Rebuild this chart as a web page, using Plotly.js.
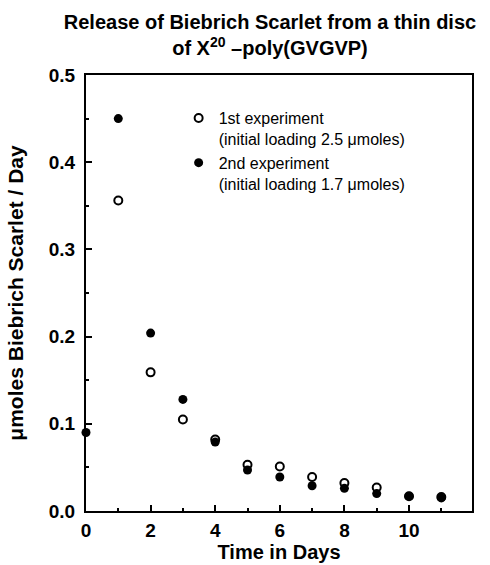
<!DOCTYPE html>
<html>
<head>
<meta charset="utf-8">
<script src="https://cdn.plot.ly/plotly-3.0.1.min.js"></script>
<style>html,body{margin:0;padding:0;background:#fff;}#chart{width:490px;height:565px;}</style>
</head>
<body>
<div id="chart"></div>
<script>
// Data
var daysFirst = [1, 2, 3, 4, 5, 6, 7, 8, 9, 10, 11];
var releaseFirst = [0.356, 0.159, 0.105, 0.082, 0.053, 0.051, 0.039, 0.032, 0.027, 0.017, 0.016];
var daysSecond = [0, 1, 2, 3, 4, 5, 6, 7, 8, 9, 10, 11];
var releaseSecond = [0.090, 0.450, 0.204, 0.128, 0.079, 0.047, 0.039, 0.029, 0.026, 0.020, 0.017, 0.015];
var nameFirst = "1st experiment<br>(initial loading 2.5 \u03bcmoles)";
var nameSecond = "2nd experiment<br>(initial loading 1.7 \u03bcmoles)";
var xTicks = [0, 2, 4, 6, 8, 10];

var FONT = "Liberation Sans, Arial, Helvetica, sans-serif";

var traces = [
  {
    x: daysFirst, y: releaseFirst, name: nameFirst,
    type: "scatter", mode: "markers", cliponaxis: false,
    marker: {symbol: "circle", size: 8, color: "#ffffff", line: {color: "#000000", width: 2}}
  },
  {
    x: daysSecond, y: releaseSecond, name: nameSecond,
    type: "scatter", mode: "markers", cliponaxis: false,
    marker: {symbol: "circle", size: 9, color: "#000000", line: {color: "#000000", width: 0}}
  }
];

var layout = {
  width: 490, height: 565,
  paper_bgcolor: "#ffffff", plot_bgcolor: "#ffffff",
  margin: {l: 86, r: 18, t: 75, b: 54},
  font: {family: FONT, color: "#000000"},
  title: {
    text: "<b>Release of Biebrich Scarlet from a thin disc<br>of X<sup>20</sup> \u2013poly(GVGVP)</b>",
    font: {family: FONT, size: 20, color: "#000000"},
    x: 0.551, xanchor: "center", xref: "container",
    y: 0.948, yanchor: "top", yref: "container"
  },
  xaxis: {
    range: [0, 11.95], tickvals: xTicks,
    showgrid: false, zeroline: false,
    showline: true, linecolor: "#000000", linewidth: 2, mirror: true,
    ticks: "inside", ticklen: 6, tickwidth: 2, tickcolor: "#000000",
    minor: {dtick: 1, tick0: 0, ticks: "inside", ticklen: 3, tickwidth: 2, tickcolor: "#000000"},
    tickfont: {family: FONT, size: 19, color: "#000000", weight: "bold"},
    ticklabelstandoff: 1,
    title: {text: "<b>Time in Days</b>", font: {family: FONT, size: 20, color: "#000000"}, standoff: 0}
  },
  yaxis: {
    range: [0, 0.5], dtick: 0.1, tick0: 0, tickformat: ".1f",
    showgrid: false, zeroline: false,
    showline: true, linecolor: "#000000", linewidth: 2, mirror: true,
    ticks: "inside", ticklen: 6, tickwidth: 2, tickcolor: "#000000",
    minor: {dtick: 0.05, ticks: "inside", ticklen: 3, tickwidth: 2, tickcolor: "#000000"},
    tickfont: {family: FONT, size: 19, color: "#000000", weight: "bold"},
    ticklabelstandoff: 5,
    title: {text: "<b>\u03bcmoles Biebrich Scarlet / Day</b>", font: {family: FONT, size: 21, color: "#000000"}, standoff: 19}
  },
  showlegend: true,
  legend: {
    x: 0.24, y: 0.94, xanchor: "left", yanchor: "top",
    bgcolor: "rgba(0,0,0,0)", borderwidth: 0,
    font: {family: FONT, size: 16, color: "#000000"},
    itemwidth: 30, valign: "top", tracegroupgap: 0
  }
};

Plotly.newPlot("chart", traces, layout, {displayModeBar: false, staticPlot: true});
</script>
</body>
</html>
